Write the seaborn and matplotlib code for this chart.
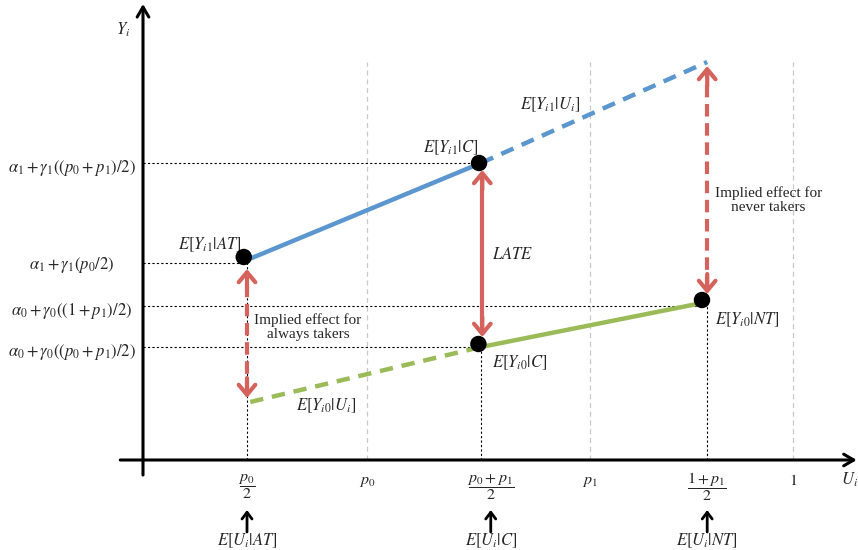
import matplotlib
matplotlib.use("Agg")
import matplotlib.pyplot as plt
import pandas as pd
import seaborn as sns

sns.set_theme(style="white")
plt.rcParams['font.family'] = ['Liberation Serif', 'DejaVu Serif']
plt.rcParams['mathtext.fontset'] = 'stix'

BLUE = '#5b96cf'
GREEN = '#9bbb59'
RED = '#d5625c'

# U positions (horizontal) of the key points
u_at = 0.16          # p0/2
u_p0 = 0.345         # p0
u_c = 0.52           # (p0+p1)/2
u_p1 = 0.688         # p1
u_nt = 0.868         # (1+p1)/2
u_one = 1.0

# Y values (vertical)
y1_at = 2.0
y1_c = 2.97
y1_nt = 3.98
y0_at = 0.58
y0_c = 1.13
y0_nt = 1.57

x_tick_pos = [u_at, u_p0, u_c, u_p1, u_nt, u_one]
x_tick_labels = [r'$\dfrac{p_0}{2}$', r'$p_0$', r'$\dfrac{p_0+p_1}{2}$',
                 r'$p_1$', r'$\dfrac{1+p_1}{2}$', r'$1$']
y_tick_pos = [y1_c, y1_at, y0_nt - 0.03, y0_c]
y_tick_labels = [r'$\alpha_1+\gamma_1((p_0+p_1)/2)$', r'$\alpha_1+\gamma_1(p_0/2)$',
                 r'$\alpha_0+\gamma_0((1+p_1)/2)$', r'$\alpha_0+\gamma_0((p_0+p_1)/2)$']
bottom_labels = [r'$E[U_i|AT]$', r'$E[U_i|C]$', r'$E[U_i|NT]$']

segments = pd.DataFrame({
    'u': [u_at, u_c, u_c, u_nt, u_at + 0.005, u_c, u_c, u_nt - 0.008],
    'y': [y1_at, y1_c, y1_c, y1_nt, y0_at, y0_c, y0_c, y0_nt],
    'seg': ['b1', 'b1', 'b2', 'b2', 'g1', 'g1', 'g2', 'g2'],
})

fig = plt.figure(figsize=(8.58, 5.5), dpi=100)
ax = fig.add_axes([0, 0, 1, 1])
ax.set_xlim(-0.22, 1.1)
ax.set_ylim(-0.9, 4.6)
ax.axis('off')

# light grey guide lines
for u in [u_p0, u_p1, u_one]:
    ax.plot([u, u], [0, 3.98], color='#c9c9c9', lw=0.9, ls=(0, (4, 3)), zorder=1)

# black dotted reference lines
dot = dict(color='black', lw=0.8, ls=(0, (2, 2)), zorder=1)
ax.plot([0, u_c], [y1_c, y1_c], **dot)
ax.plot([0, u_at], [y1_at - 0.03, y1_at - 0.03], **dot)
ax.plot([0, u_nt - 0.008], [y0_nt - 0.03, y0_nt - 0.03], **dot)
ax.plot([0, u_c], [y0_c, y0_c], **dot)
ax.plot([u_at, u_at], [0, y1_at], **dot)
ax.plot([u_c, u_c], [0, y0_c], **dot)
ax.plot([u_nt, u_nt], [0, y0_nt], **dot)

# outcome lines
styles = {'b1': (BLUE, '-'), 'b2': (BLUE, (0, (3, 2))),
          'g1': (GREEN, (0, (3, 2))), 'g2': (GREEN, '-')}
for seg, (col, ls) in styles.items():
    d = segments[segments['seg'] == seg]
    sns.lineplot(data=d, x='u', y='y', ax=ax, color=col, lw=3.2, ls=ls,
                 sort=False, estimator=None, zorder=2)

# points
pts = pd.DataFrame({'u': [u_at - 0.005, u_c - 0.003, u_c - 0.004, u_nt - 0.008],
                    'y': [y1_at + 0.03, y1_c, y0_c + 0.03, y0_nt + 0.03]})
sns.scatterplot(data=pts, x='u', y='y', ax=ax, color='black', s=140,
                edgecolor='none', zorder=5)


def red_arrow(u, y_lo, y_hi, dashed):
    ls = (0, (3, 1.6)) if dashed else '-'
    ax.plot([u, u], [y_lo + 0.05, y_hi - 0.05], color=RED, lw=3, ls=ls, zorder=3)
    head = dict(arrowstyle='->,head_length=0.6,head_width=0.5', color=RED, lw=3,
                shrinkA=0, shrinkB=0)
    ax.annotate('', xy=(u, y_hi), xytext=(u, y_hi - 0.2), arrowprops=head, zorder=3)
    ax.annotate('', xy=(u, y_lo), xytext=(u, y_lo + 0.2), arrowprops=head, zorder=3)


red_arrow(u_at, y0_at + 0.04, y1_at - 0.09, True)
red_arrow(u_c + 0.002, y0_c + 0.1, y1_c - 0.07, False)
red_arrow(u_nt, y0_nt + 0.09, y1_nt - 0.04, True)

# axes arrows
ax.annotate('', xy=(0, 4.56), xytext=(0, -0.15),
            arrowprops=dict(arrowstyle='->,head_length=0.6,head_width=0.35', color='black', lw=2.2,
                            shrinkA=0, shrinkB=0))
ax.annotate('', xy=(1.098, 0), xytext=(-0.035, 0),
            arrowprops=dict(arrowstyle='->,head_length=0.6,head_width=0.35', color='black', lw=2.2,
                            shrinkA=0, shrinkB=0))
ax.text(-0.03, 4.3, r'$Y_i$', fontsize=12, ha='center', va='center')
ax.text(1.087, -0.2, r'$U_i$', fontsize=12, ha='center', va='center')

# tick labels
fs = 12
for u, lab in zip(x_tick_pos, x_tick_labels):
    is_frac = 'frac' in lab
    off = 0.015 if u == u_c else 0.0
    ax.text(u + off, -0.27 if is_frac else -0.21, lab, fontsize=fs - 0.5,
            ha='center', va='center')
for y, lab in zip(y_tick_pos, y_tick_labels):
    ax.text(-0.11, y - 0.05, lab, fontsize=fs, ha='center', va='center')

# bottom arrows and labels
for u, lab in zip([u_at, u_c + 0.015, u_nt], bottom_labels):
    ax.annotate('', xy=(u, -0.5), xytext=(u, -0.72),
                arrowprops=dict(arrowstyle='->,head_length=0.4,head_width=0.3', color='black', lw=2,
                                shrinkA=0, shrinkB=0))
    ax.text(u, -0.81, lab, fontsize=fs, ha='center', va='center')

# point labels
ax.text(0.103, 2.15, r'$E[Y_{i1}|AT]$', fontsize=fs, ha='center', va='center')
ax.text(0.474, 3.12, r'$E[Y_{i1}|C]$', fontsize=fs, ha='center', va='center')
ax.text(0.626, 3.55, r'$E[Y_{i1}|U_i]$', fontsize=fs, ha='center', va='center')
ax.text(0.537, 2.05, r'$LATE$', fontsize=fs, ha='left', va='center')
ax.text(0.537, 0.97, r'$E[Y_{i0}|C]$', fontsize=fs, ha='left', va='center')
ax.text(0.282, 0.54, r'$E[Y_{i0}|U_i]$', fontsize=fs, ha='center', va='center')
ax.text(0.88, 1.4, r'$E[Y_{i0}|NT]$', fontsize=fs, ha='left', va='center')
ax.text(0.254, 1.33, 'Implied effect for\nalways takers', fontsize=11, ha='center',
        va='center', linespacing=1.1)
ax.text(0.962, 2.6, 'Implied effect for\nnever takers', fontsize=11, ha='center',
        va='center', linespacing=1.1)

fig.savefig('out.png', dpi=100)
